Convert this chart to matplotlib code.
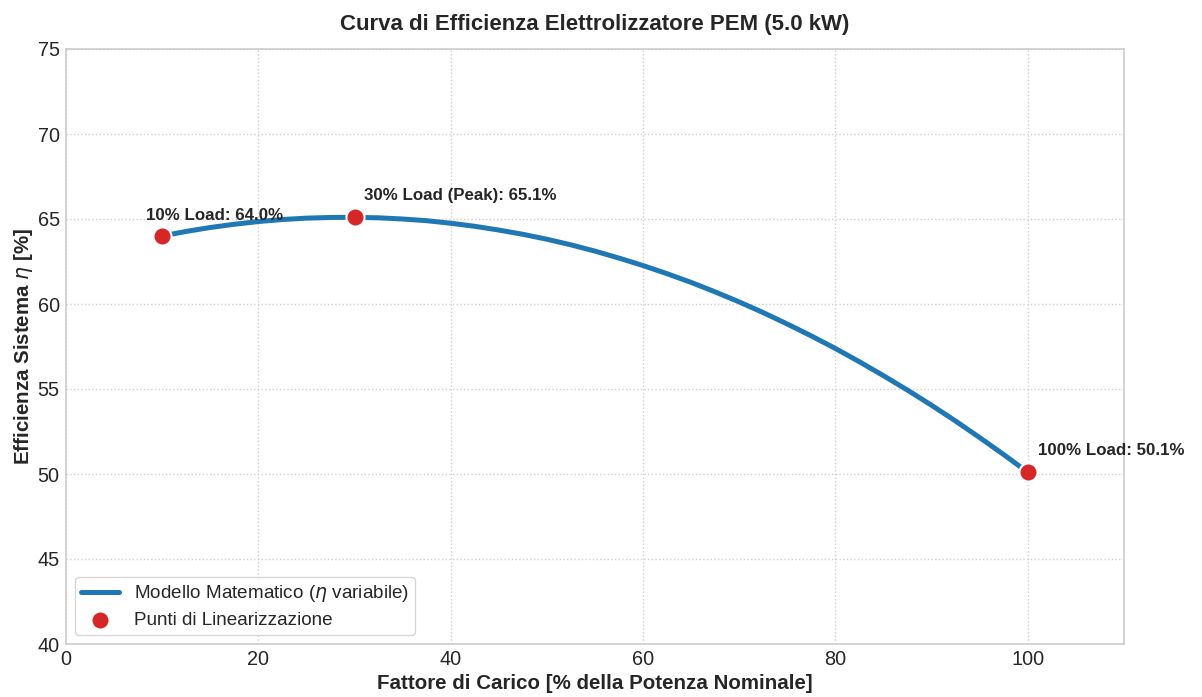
import matplotlib
matplotlib.use("Agg")
import matplotlib.pyplot as plt
import seaborn as sns

# Efficiency model sampled along the load range
load_curve = [10, 12.5, 15, 17.5, 20, 22.5, 25, 27.5, 30, 32.5, 35, 37.5, 40, 42.5, 45,
              47.5, 50, 52.5, 55, 57.5, 60, 62.5, 65, 67.5, 70, 72.5, 75, 77.5, 80,
              82.5, 85, 87.5, 90, 92.5, 95, 97.5, 100]
eta_curve = [64.00, 64.27, 64.50, 64.69, 64.85, 64.97, 65.05, 65.09, 65.10, 65.07, 65.00,
             64.90, 64.75, 64.57, 64.35, 64.10, 63.81, 63.48, 63.11, 62.70, 62.26, 61.78,
             61.27, 60.71, 60.12, 59.49, 58.82, 58.12, 57.38, 56.60, 55.78, 54.93, 54.04,
             53.11, 52.14, 51.14, 50.10]

# Linearization points
load_points = [10, 30, 100]
eta_points = [64.0, 65.1, 50.1]
point_labels = ["10% Load", "30% Load (Peak)", "100% Load"]

sns.set_theme(style="whitegrid")
plt.rcParams["font.family"] = ["Liberation Sans", "DejaVu Sans"]
plt.rcParams["mathtext.fontset"] = "dejavusans"

fig = plt.figure(figsize=(12.02, 6.97), dpi=100)
ax = fig.add_axes([66 / 1202, 1 - 644 / 697, (1124 - 66) / 1202, (644 - 49) / 697])

ax.plot(load_curve, eta_curve, color="#1f77b4", linewidth=3.6,
        label=r"Modello Matematico ($\eta$ variabile)", zorder=3)
ax.scatter(load_points, eta_points, s=170, color="#d62728", edgecolor="white",
           linewidth=1.5, zorder=5, label="Punti di Linearizzazione")

offsets = [(-12, 9.5), (7, 10), (7, 10)]
for x, y, lab, off in zip(load_points, eta_points, point_labels, offsets):
    ax.annotate(f"{lab}: {y:.1f}%", xy=(x, y), xytext=off, textcoords="offset points",
                fontsize=12.2, fontweight="bold", color="#262626", va="bottom", ha="left")

ax.set_xlim(0, 110)
ax.set_ylim(40, 75)
ax.set_xticks([0, 20, 40, 60, 80, 100])
ax.set_yticks([40, 45, 50, 55, 60, 65, 70, 75])
ax.tick_params(axis="both", labelsize=14.3, colors="#262626", length=0)
ax.tick_params(axis="y", pad=4.5)
ax.tick_params(axis="x", pad=4.0)
ax.grid(True, linestyle=":", linewidth=1.0, color="#d0d0d0")
for sp in ax.spines.values():
    sp.set_color("#cccccc")
    sp.set_linewidth(1.2)

ax.set_xlabel("Fattore di Carico [% della Potenza Nominale]", fontsize=14.8,
              fontweight="bold", color="#262626", labelpad=4)
ax.set_ylabel(r"Efficienza Sistema $\eta$ [%]", fontsize=14.8, fontweight="bold",
              color="#262626", labelpad=2)
ax.set_title("Curva di Efficienza Elettrolizzatore PEM (5.0 kW)", fontsize=16,
             fontweight="bold", color="#262626", pad=14)

leg = ax.legend(loc="lower left", fontsize=13.6, frameon=True, borderpad=0.3,
                labelspacing=0.4)
leg.get_frame().set_edgecolor("#cccccc")

fig.savefig("out.png", dpi=100)
